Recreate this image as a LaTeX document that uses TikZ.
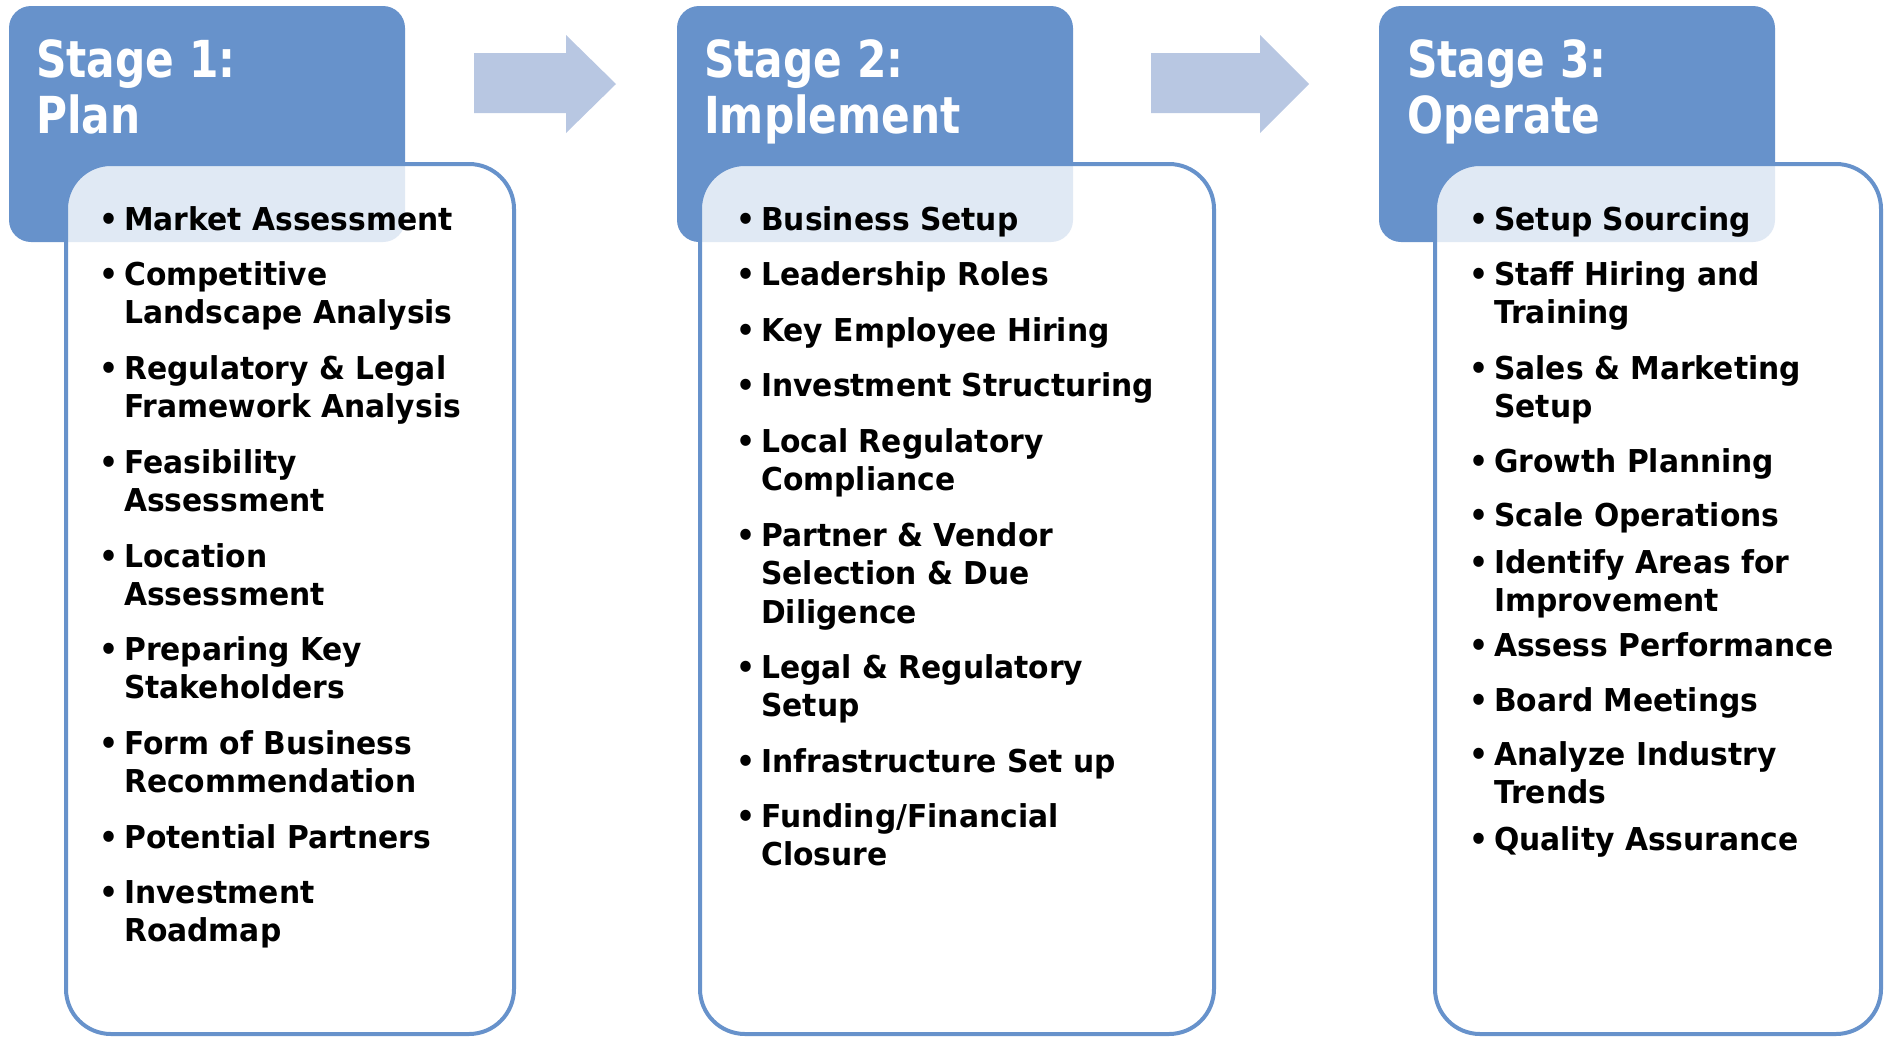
\documentclass[tikz,border=0pt]{standalone}
\usepackage{fontspec}
\newfontfamily\headfont{DejaVu Sans}[FakeStretch=0.83]
\newfontfamily\itemfont{DejaVu Sans}[FakeStretch=0.945]
\definecolor{stageblue}{HTML}{6792CB}
\definecolor{arrowblue}{HTML}{B8C7E2}
% one bulleted entry; the baseline of the node is that of its first line
\newcommand{\itm}[1]{\parbox[t]{430pt}{\raggedright\leavevmode\llap{\textbullet\hspace{6pt}}#1}}
\newcommand{\hdtxt}[1]{\parbox[t]{330pt}{\raggedright #1}}
\begin{document}
\begin{tikzpicture}[x=1pt,y=-1pt,
  hdr/.style={fill=stageblue, rounded corners=22pt},
  panel/.style={draw=stageblue, line width=4pt, fill=white, fill opacity=0.8,
                draw opacity=1, rounded corners=45pt},
  flow/.style={fill=arrowblue},
  hdrtext/.style={anchor=base west, inner sep=0pt, text=white,
                  font=\headfont\bfseries\fontsize{51}{56}\selectfont},
  item/.style={anchor=base west, inner sep=0pt, text=black,
               font=\itemfont\bfseries\fontsize{31.5}{38.5}\selectfont}]
\useasboundingbox (0,0) rectangle (1885,1037);

% stage header tabs
\path[hdr] (9,6) rectangle (405,242);
\path[hdr] (677,6) rectangle (1073,242);
\path[hdr] (1379,6) rectangle (1775,242);

% block arrows between the stages
\path[flow] (474,53) -- (566,53) -- (566,35) -- (616,84) -- (566,133) -- (566,113) -- (474,113) -- cycle;
\path[flow] (1151,53) -- (1260,53) -- (1260,35) -- (1309,84) -- (1260,133) -- (1260,113) -- (1151,113) -- cycle;

% content panels
\path[panel] (66,164) rectangle (514,1034);
\path[panel] (700,164) rectangle (1214,1034);
\path[panel] (1435,164) rectangle (1881,1034);

% header titles
\node[hdrtext] (h1) at (36,77) {\hdtxt{Stage 1:\\Plan}};
\node[hdrtext] (h2) at (704,77) {\hdtxt{Stage 2:\\Implement}};
\node[hdrtext] (h3) at (1407,77) {\hdtxt{Stage 3:\\Operate}};

% stage 1 items
\node[item] (a1) at (124,230) {\itm{Market Assessment}};
\node[item] (a2) at (124,285) {\itm{Competitive\\Landscape Analysis}};
\node[item] (a3) at (124,379) {\itm{Regulatory \& Legal\\Framework Analysis}};
\node[item] (a4) at (124,473) {\itm{Feasibility\\Assessment}};
\node[item] (a5) at (124,567) {\itm{Location\\Assessment}};
\node[item] (a6) at (124,660) {\itm{Preparing Key\\Stakeholders}};
\node[item] (a7) at (124,754) {\itm{Form of Business\\Recommendation}};
\node[item] (a8) at (124,848) {\itm{Potential Partners}};
\node[item] (a9) at (124,903) {\itm{Investment\\Roadmap}};

% stage 2 items
\node[item] (b1) at (761,230) {\itm{Business Setup}};
\node[item] (b2) at (761,285) {\itm{Leadership Roles}};
\node[item] (b3) at (761,341) {\itm{Key Employee Hiring}};
\node[item] (b4) at (761,396) {\itm{Investment Structuring}};
\node[item] (b5) at (761,452) {\itm{Local Regulatory\\Compliance}};
\node[item] (b6) at (761,546) {\itm{Partner \& Vendor\\Selection \& Due\\Diligence}};
\node[item] (b7) at (761,678) {\itm{Legal \& Regulatory\\Setup}};
\node[item] (b8) at (761,772) {\itm{Infrastructure Set up}};
\node[item] (b9) at (761,827) {\itm{Funding/Financial\\Closure}};

% stage 3 items
\node[item] (c1) at (1494,230) {\itm{Setup Sourcing}};
\node[item] (c2) at (1494,285) {\itm{Staff Hiring and\\Training}};
\node[item] (c3) at (1494,379) {\itm{Sales \& Marketing\\Setup}};
\node[item] (c4) at (1494,472) {\itm{Growth Planning}};
\node[item] (c5) at (1494,526) {\itm{Scale Operations}};
\node[item] (c6) at (1494,573) {\itm{Identify Areas for\\Improvement}};
\node[item] (c7) at (1494,656) {\itm{Assess Performance}};
\node[item] (c8) at (1494,711) {\itm{Board Meetings}};
\node[item] (c9) at (1494,765) {\itm{Analyze Industry\\Trends}};
\node[item] (c10) at (1494,850) {\itm{Quality Assurance}};
\end{tikzpicture}
\end{document}
